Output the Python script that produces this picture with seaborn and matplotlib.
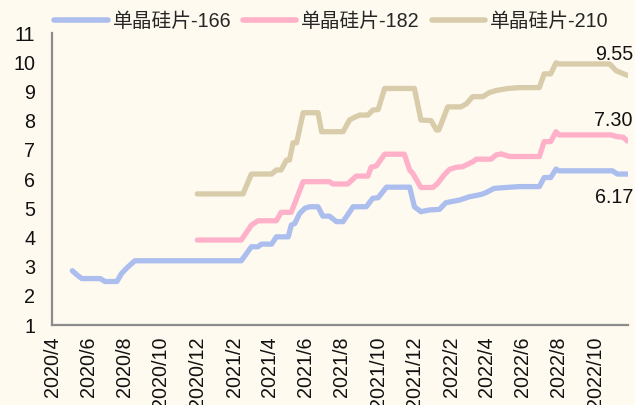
import pandas as pd
import matplotlib
matplotlib.use("Agg")
import matplotlib.pyplot as plt
import matplotlib.dates as mdates
from matplotlib.lines import Line2D
import seaborn as sns

# 单晶硅片价格 (元/片)
dates_166 = [
    "2020-05-05", "2020-05-12", "2020-05-21", "2020-06-21", "2020-06-29",
    "2020-07-19", "2020-07-27", "2020-08-04", "2020-08-18", "2021-02-13",
    "2021-03-02", "2021-03-13", "2021-03-19", "2021-04-05", "2021-04-13",
    "2021-05-03", "2021-05-08", "2021-05-14", "2021-05-22", "2021-05-31",
    "2021-06-08", "2021-06-22", "2021-06-30", "2021-07-11", "2021-07-23",
    "2021-08-03", "2021-08-20", "2021-09-11", "2021-09-22", "2021-10-01",
    "2021-10-15", "2021-11-23", "2021-12-01", "2021-12-12", "2021-12-26",
    "2022-01-12", "2022-01-23", "2022-02-15", "2022-03-03", "2022-03-23",
    "2022-03-31", "2022-04-14", "2022-05-04", "2022-05-26", "2022-06-29",
    "2022-07-07", "2022-07-18", "2022-07-27", "2022-08-01", "2022-10-30",
    "2022-11-07", "2022-11-24",
]
price_166 = [
    2.86, 2.73, 2.59, 2.59, 2.49,
    2.49, 2.77, 2.94, 3.20, 3.20,
    3.68, 3.68, 3.77, 3.77, 4.02,
    4.02, 4.42, 4.48, 4.82, 5.00,
    5.05, 5.05, 4.73, 4.73, 4.54,
    4.54, 5.05, 5.05, 5.34, 5.36,
    5.72, 5.72, 5.05, 4.88, 4.94,
    4.96, 5.19, 5.28, 5.39, 5.47,
    5.53, 5.68, 5.71, 5.74, 5.74,
    6.05, 6.05, 6.34, 6.28, 6.28,
    6.17, 6.17,
]

dates_182 = [
    "2020-12-01", "2021-02-13", "2021-03-02", "2021-03-13", "2021-04-13",
    "2021-04-21", "2021-05-08", "2021-05-28", "2021-07-11", "2021-07-17",
    "2021-08-11", "2021-08-25", "2021-09-14", "2021-09-19", "2021-09-28",
    "2021-10-12", "2021-11-14", "2021-11-23", "2021-11-28", "2021-12-12",
    "2022-01-01", "2022-01-09", "2022-01-20", "2022-01-29", "2022-02-09",
    "2022-02-20", "2022-03-09", "2022-03-15", "2022-04-09", "2022-04-17",
    "2022-04-26", "2022-05-10", "2022-06-29", "2022-07-07", "2022-07-18",
    "2022-07-27", "2022-08-01", "2022-10-27", "2022-11-07", "2022-11-17",
    "2022-11-24",
]
price_182 = [
    3.91, 3.91, 4.42, 4.57, 4.57,
    4.86, 4.86, 5.91, 5.91, 5.83,
    5.83, 6.10, 6.10, 6.40, 6.45,
    6.85, 6.85, 6.31, 6.20, 5.71,
    5.71, 5.85, 6.14, 6.33, 6.40,
    6.42, 6.59, 6.68, 6.68, 6.82,
    6.86, 6.77, 6.77, 7.28, 7.28,
    7.62, 7.51, 7.51, 7.45, 7.43,
    7.30,
]

dates_210 = [
    "2020-12-01", "2021-02-16", "2021-03-02", "2021-04-05", "2021-04-13",
    "2021-04-21", "2021-04-30", "2021-05-05", "2021-05-11", "2021-05-17",
    "2021-05-28", "2021-06-22", "2021-06-28", "2021-08-03", "2021-08-14",
    "2021-08-22", "2021-08-31", "2021-09-14", "2021-09-22", "2021-10-01",
    "2021-10-12", "2021-12-01", "2021-12-12", "2021-12-29", "2022-01-07",
    "2022-01-11", "2022-01-26", "2022-02-17", "2022-02-26", "2022-03-09",
    "2022-03-26", "2022-04-06", "2022-04-17", "2022-05-07", "2022-05-26",
    "2022-06-29", "2022-07-07", "2022-07-18", "2022-07-27", "2022-08-01",
    "2022-10-25", "2022-11-05", "2022-11-13", "2022-11-24",
]
price_210 = [
    5.49, 5.49, 6.17, 6.17, 6.31,
    6.31, 6.65, 6.65, 7.24, 7.24,
    8.27, 8.27, 7.62, 7.62, 8.02,
    8.11, 8.19, 8.19, 8.36, 8.38,
    9.10, 9.10, 8.02, 8.00, 7.68,
    7.68, 8.47, 8.47, 8.57, 8.82,
    8.82, 8.96, 9.03, 9.10, 9.13,
    9.13, 9.60, 9.60, 9.98, 9.94,
    9.94, 9.71, 9.64, 9.55,
]

series_names = ["单晶硅片-166", "单晶硅片-182", "单晶硅片-210"]
series_colors = ["#ACBEEE", "#FFB1C9", "#D8CCAB"]
end_labels = ["6.17", "7.30", "9.55"]

bg = "#FEFAF0"
axis_gray = "#8C8C8C"
fs = 14.2

sns.set_style("white")
plt.rcParams["font.family"] = ["Liberation Sans", "Noto Sans CJK SC", "DejaVu Sans"]

fig = plt.figure(figsize=(6.35, 4.05), dpi=100, facecolor=bg)
ax = fig.add_axes([0.082, 0.1975, 0.907, 0.721])
ax.set_facecolor(bg)

all_series = [
    (dates_166, price_166),
    (dates_182, price_182),
    (dates_210, price_210),
]

for (d, p), name, color, lab in zip(all_series, series_names, series_colors, end_labels):
    df = pd.DataFrame({"date": pd.to_datetime(d), "price": p})
    sns.lineplot(
        data=df,
        x="date",
        y="price",
        ax=ax,
        color=color,
        linewidth=3.8,
        legend=False,
        solid_capstyle="round",
        solid_joinstyle="round",
    )
    # value label at the end of each line
    offset = -17 if name.endswith("166") else 15
    ax.annotate(
        lab,
        xy=(df["date"].iloc[-1], df["price"].iloc[-1]),
        xytext=(4, offset),
        textcoords="offset points",
        ha="right",
        va="center",
        fontsize=fs,
        color="#111111",
        annotation_clip=False,
    )

ax.set_xlim(pd.Timestamp("2020-04-01"), pd.Timestamp("2022-11-25"))
ax.set_ylim(1, 11)
ax.set_yticks(range(1, 12))

ax.xaxis.set_major_locator(mdates.MonthLocator(bymonth=[2, 4, 6, 8, 10, 12]))
ax.xaxis.set_major_formatter(
    plt.FuncFormatter(lambda v, pos: f"{mdates.num2date(v).year}/{mdates.num2date(v).month}")
)

ax.set_xlabel("")
ax.set_ylabel("")

for side in ["top", "right"]:
    ax.spines[side].set_visible(False)
for side in ["left", "bottom"]:
    ax.spines[side].set_color(axis_gray)
    ax.spines[side].set_linewidth(1.6)

ax.tick_params(
    axis="both",
    direction="in",
    length=5,
    width=1.4,
    color=axis_gray,
    labelsize=fs,
    labelcolor="#111111",
)
ax.tick_params(axis="x", labelrotation=90, pad=8)
ax.tick_params(axis="y", pad=12)

handles = [
    Line2D([0], [0], color=c, linewidth=4, solid_capstyle="round")
    for c in series_colors
]
fig.legend(
    handles,
    series_names,
    loc="center",
    bbox_to_anchor=(0.522, 0.948),
    ncol=3,
    frameon=False,
    fontsize=fs,
    handlelength=2.7,
    handletextpad=0.25,
    columnspacing=0.6,
    borderaxespad=0,
)

fig.savefig("out.png", dpi=100, facecolor=bg)
plt.close(fig)
